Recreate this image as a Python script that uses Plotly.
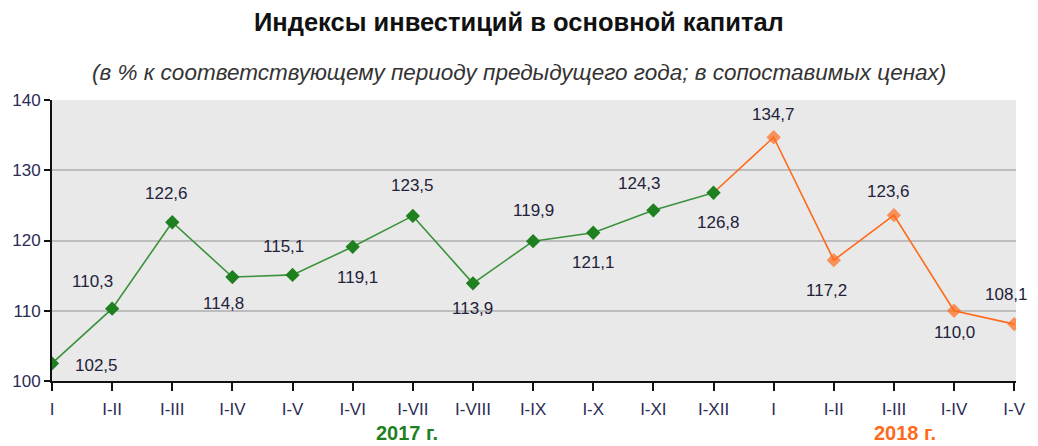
import plotly.graph_objects as go

categories = ["I", "I-II", "I-III", "I-IV", "I-V", "I-VI", "I-VII", "I-VIII", "I-IX",
              "I-X", "I-XI", "I-XII", "I", "I-II", "I-III", "I-IV", "I-V"]
values_2017 = [102.5, 110.3, 122.6, 114.8, 115.1, 119.1, 123.5, 113.9, 119.9,
               121.1, 124.3, 126.8]
values_2018 = [134.7, 117.2, 123.6, 110.0, 108.1]
y_ticks = [100, 110, 120, 130, 140]

# label offsets in pixels (dx, dy) for each point
label_dx = [44, -20, -6, -9, -9, 5, 0, 0, 0, 0, -14, 5, 0, -7, -5, 0, -8]
label_dy = [-2, 27, 29, -26, 28, -31, 30, -25, 31, -30, 27, -30, 23, -30, 24, -22, 30]

GREEN = "#1f801f"
GREEN_LINE = "#3a923a"
ORANGE = "#ff6a1a"
FONT = "Liberation Sans, Arial"

n17 = len(values_2017)
x17 = list(range(n17))
x18 = list(range(n17 - 1, n17 + len(values_2018)))
y18 = [values_2017[-1]] + values_2018

fig = go.Figure()
fig.add_trace(go.Scatter(
    x=x18, y=y18, mode="lines+markers",
    line=dict(color=ORANGE, width=1.6),
    marker=dict(symbol="diamond", size=[0] + [11] * len(values_2018), color=ORANGE,
                line=dict(width=0)),
    hoverinfo="skip", showlegend=False))
fig.add_trace(go.Scatter(
    x=x17, y=values_2017, mode="lines+markers",
    line=dict(color=GREEN_LINE, width=1.6),
    marker=dict(symbol="diamond", size=11, color=GREEN, line=dict(width=0)),
    hoverinfo="skip", showlegend=False))

all_vals = values_2017 + values_2018
for i, v in enumerate(all_vals):
    fig.add_annotation(x=i, y=v, text=f"{v:.1f}".replace(".", ","),
                       showarrow=False, xshift=label_dx[i], yshift=label_dy[i],
                       font=dict(family=FONT, size=17, color="#22223a"))

# titles
fig.add_annotation(xref="paper", yref="paper", x=0.484, y=1.0, yshift=78,
                   text="<b>Индексы инвестиций в основной капитал</b>",
                   showarrow=False, yanchor="middle",
                   font=dict(family=FONT, size=25.5, color="#111111"))
fig.add_annotation(xref="paper", yref="paper", x=0.484, y=1.0, yshift=28,
                   text="<i>(в % к соответствующему периоду предыдущего года; в сопоставимых ценах)</i>",
                   showarrow=False, yanchor="middle",
                   font=dict(family=FONT, size=22.5, color="#333333"))
# year labels
fig.add_annotation(x=5.9, y=0, yref="paper", yshift=-52, text="<b>2017 г.</b>",
                   showarrow=False, yanchor="middle",
                   font=dict(family=FONT, size=20, color=GREEN))
fig.add_annotation(x=14.19, y=0, yref="paper", yshift=-52, text="<b>2018 г.</b>",
                   showarrow=False, yanchor="middle",
                   font=dict(family=FONT, size=20, color=ORANGE))

fig.update_layout(
    width=1038, height=446,
    margin=dict(l=52, r=18, t=100, b=65),
    paper_bgcolor="white", plot_bgcolor="#e9e9e9",
    font=dict(family=FONT, size=13, color="#2b2b55"),
)
fig.update_xaxes(range=[0, 16.03], tickmode="array", tickvals=list(range(len(categories))),
                 ticktext=categories, showgrid=False, zeroline=False,
                 showline=True, linecolor="#111111", linewidth=2,
                 ticks="outside", ticklen=8, tickwidth=2, tickcolor="#111111",
                 ticklabelstandoff=4,
                 tickfont=dict(size=17, color="#2b2b55"))
fig.update_yaxes(range=[100, 140], tickvals=y_ticks, showgrid=True, gridcolor="#bdbdbd",
                 gridwidth=1.5, zeroline=False, showline=True, linecolor="#111111",
                 linewidth=2, ticks="outside", ticklen=6, tickwidth=2, tickcolor="#111111",
                 tickfont=dict(size=17, color="#2b2b55"))

fig.write_html("out.html")
